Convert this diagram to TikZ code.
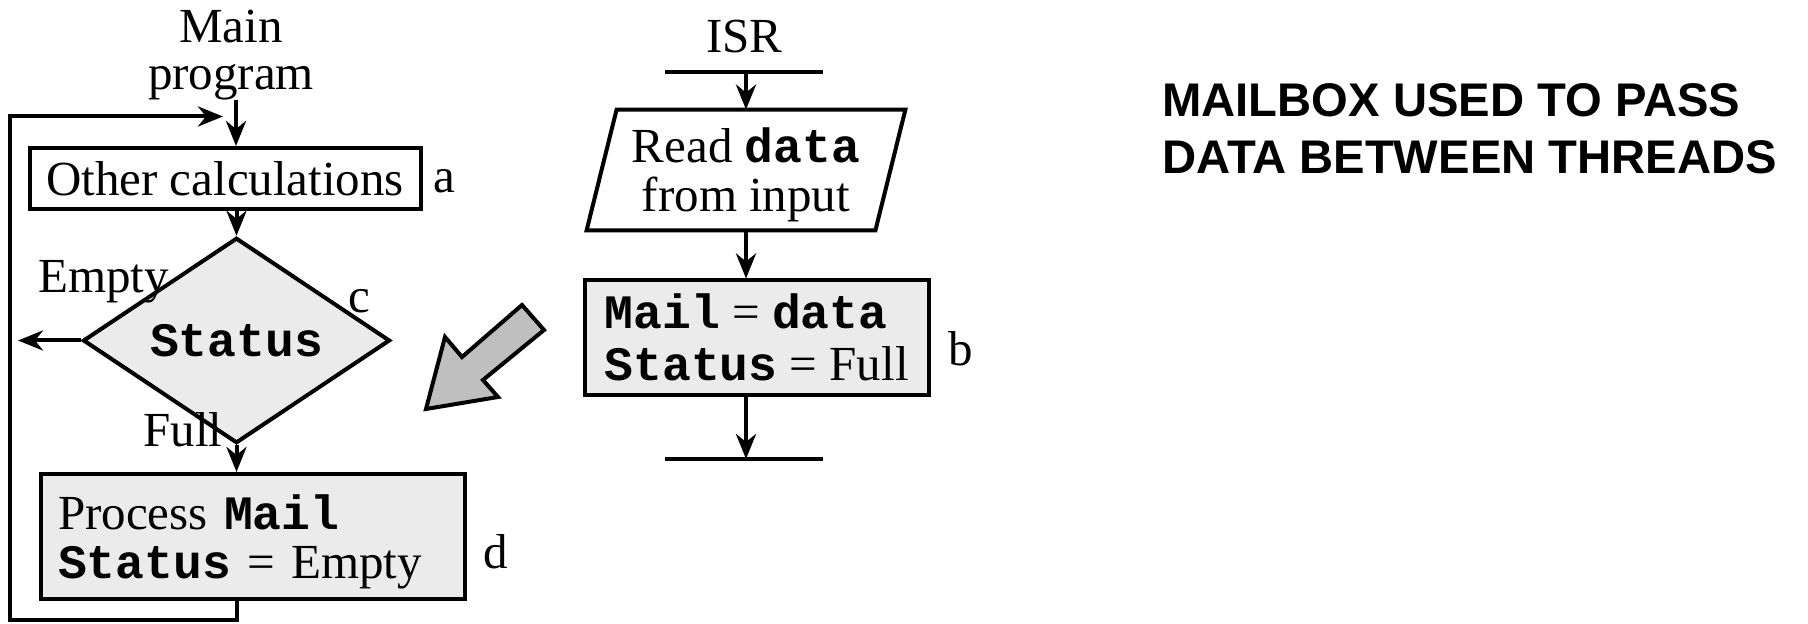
\documentclass[tikz,border=0pt]{standalone}
\usepackage{fontspec}
\setmainfont{Liberation Serif}
\setmonofont{Liberation Mono}
\newfontfamily\titlefont{Liberation Sans}
\usetikzlibrary{arrows.meta,shapes.geometric}
\definecolor{boxgray}{RGB}{235,235,235}
\definecolor{arrowgray}{RGB}{191,191,191}
\newcommand{\mb}[1]{{\fontsize{24}{29}\selectfont\ttfamily\bfseries #1}}
\begin{document}
\begin{tikzpicture}[x=0.5pt,y=-0.5pt,
  every node/.style={font=\fontsize{24.5}{24.5}\selectfont},
  box/.style={draw, line width=2pt, rectangle, inner sep=0pt},
  conn/.style={line width=2pt, -{Stealth[length=12.5pt,width=10pt,inset=4pt]}},
  plain/.style={line width=2pt},
  lbl/.style={anchor=base west, inner sep=0pt},
]
\useasboundingbox (0,0) rectangle (1808,624);

% main program column
\node[align=center, anchor=base, inner sep=0pt, font=\fontsize{24.5}{23.5}\selectfont] (main) at (231,90) {Main\\program};
\coordinate (mstart) at (236,100);
\node[box, minimum width=195.5pt, minimum height=30.5pt] (a) at (225,178.5) {Other calculations};
\node[lbl] (la) at (433,193) {a};
\node[diamond, draw, line width=2pt, fill=boxgray, inner sep=0pt, minimum width=153.5pt, minimum height=72.5pt] (st) at (236.5,340.5) {\mb{Status}};
\node[lbl] (lempty) at (38,293) {Empty};
\node[lbl] (lc) at (348,313) {c};
\node[lbl] (lfull) at (143,447) {Full};
\node[box, fill=boxgray, minimum width=212pt, minimum height=62.5pt, text width=195pt, align=left] (d) at (253,536.5) {\rule{0pt}{22.5pt}Process \mb{Mail}\\\mb{Status} = Empty};
\node[lbl] (ld) at (483,568) {d};
\coordinate (etip) at (18,340.5);
\coordinate (ltip) at (223,116.5);

\draw[conn] (mstart) -- (mstart |- a.north);
\draw[conn] (a.south -| st.north) -- (st.north);
\draw[conn] (st.west) -- (etip);
\draw[conn] (st.south) -- (st.south |- d.north);
\draw[conn] (st.south |- d.south) -- (236.5,620) -- (10,620) -- (10,116.5) -- (ltip);

% ISR column
\node[anchor=base, inner sep=0pt] (isr) at (744.5,53) {ISR};
\coordinate (tb) at (746,72);
\draw[plain] ([xshift=-40.5pt]tb) -- ([xshift=38.5pt]tb);
\node[inner sep=0pt, minimum width=159pt, minimum height=60pt, align=center, font=\fontsize{24.5}{24.5}\selectfont] (rd) at (746,170) {\rule{0pt}{22.5pt}Read \mb{data}\\from input};
\draw[plain, line join=miter] (rd.south west) -- ([xshift=15pt]rd.north west) -- (rd.north east) -- ([xshift=-15pt]rd.south east) -- cycle;
\node[box, fill=boxgray, minimum width=171.75pt, minimum height=57.25pt, align=left, font=\fontsize{24.5}{26}\selectfont] (b) at (756.75,337.75) {\mb{Mail} = \mb{data}\\\mb{Status} = Full};
\node[lbl] (lb) at (948,366) {b};
\coordinate (bb) at (746,459);
\draw[plain] ([xshift=-40.5pt]bb) -- ([xshift=38.5pt]bb);
\draw[conn] (tb) -- (rd.north);
\draw[conn] (rd.south) -- (rd.south |- b.north);
\draw[conn] (rd.south |- b.south) -- (bb);

% transfer arrow
\draw[line width=2pt, fill=arrowgray, line join=miter] (426,409) -- (445,337) -- (462,357) -- (522,305) -- (544,330) -- (483,380) -- (498,397) -- cycle;

% title
\node[anchor=base west, inner sep=0pt, align=left, font=\titlefont\bfseries\fontsize{23.6}{28.5}\selectfont] (title) at (1162,174) {MAILBOX USED TO PASS\\DATA BETWEEN THREADS};
\end{tikzpicture}
\end{document}
